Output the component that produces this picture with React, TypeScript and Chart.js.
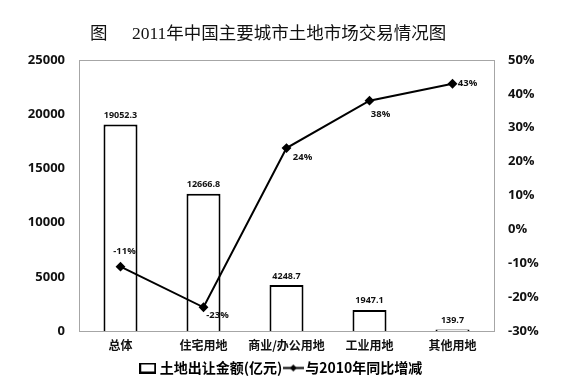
import React, { useEffect, useRef } from "react";
import { Chart, registerables } from "chart.js";

Chart.register(...registerables);

const categories = ["总体", "住宅用地", "商业/办公用地", "工业用地", "其他用地"];
const landValues = [19052.3, 12666.8, 4248.7, 1947.1, 139.7];
const yoyChange = [-11, -23, 24, 38, 43];
const leftTicks = { min: 0, max: 25000, step: 5000 };
const rightTicks = { min: -30, max: 50, step: 10 };
const barLegend = "土地出让金额(亿元)";
const lineLegend = "与2010年同比增减";
const titleLead = "图";
const titleMain = "2011年中国主要城市土地市场交易情况图";

const SANS = "'Open Sans', 'Noto Sans CJK SC', sans-serif";
const CJK = "'Noto Sans CJK SC', 'Open Sans', sans-serif";
const SERIF = "'Liberation Serif', 'Noto Sans CJK SC', serif";

// label placement for the line labels (style)
const lineLabelOffsets = [
  [4, -15],
  [14, 8],
  [16, 9],
  [11, 14],
  [15, 0],
];

function makeBarSwatch() {
  const c = document.createElement("canvas");
  c.width = 17;
  c.height = 11;
  const ctx = c.getContext("2d")!;
  ctx.fillStyle = "#fff";
  ctx.fillRect(0, 0, 17, 11);
  ctx.strokeStyle = "#000";
  ctx.lineWidth = 2;
  ctx.strokeRect(1, 1, 15, 9);
  return c;
}

function makeLineSwatch() {
  const c = document.createElement("canvas");
  c.width = 21;
  c.height = 9;
  const ctx = c.getContext("2d")!;
  ctx.strokeStyle = "#000";
  ctx.lineWidth = 2;
  ctx.beginPath();
  ctx.moveTo(0, 4.5);
  ctx.lineTo(21, 4.5);
  ctx.stroke();
  ctx.fillStyle = "#000";
  ctx.beginPath();
  ctx.moveTo(10.5, 1);
  ctx.lineTo(14, 4.5);
  ctx.lineTo(10.5, 8);
  ctx.lineTo(7, 4.5);
  ctx.closePath();
  ctx.fill();
  return c;
}

const framePlugin = {
  id: "frame",
  beforeDatasetsDraw(chart: any) {
    const { ctx, chartArea } = chart;
    ctx.save();
    ctx.strokeStyle = "#a6a6a6";
    ctx.lineWidth = 1;
    ctx.strokeRect(
      Math.round(chartArea.left) + 0.5,
      Math.round(chartArea.top) + 0.5,
      Math.round(chartArea.right - chartArea.left),
      Math.round(chartArea.bottom - chartArea.top)
    );
    ctx.restore();
  },
};

const titlePlugin = {
  id: "customTitle",
  afterDraw(chart: any) {
    const { ctx } = chart;
    ctx.save();
    ctx.fillStyle = "#111";
    ctx.font = `17.5px ${SERIF}`;
    ctx.textBaseline = "middle";
    ctx.textAlign = "left";
    ctx.fillText(titleLead, 90, 34);
    ctx.fillText(titleMain, 132, 34);
    ctx.restore();
  },
};

const labelPlugin = {
  id: "valueLabels",
  afterDatasetsDraw(chart: any) {
    const { ctx } = chart;
    ctx.save();
    ctx.fillStyle = "#111";
    ctx.textAlign = "center";
    ctx.textBaseline = "middle";
    chart.data.datasets.forEach((ds: any, di: number) => {
      const meta = chart.getDatasetMeta(di);
      meta.data.forEach((el: any, i: number) => {
        const v = ds.data[i];
        if (ds.type === "bar") {
          ctx.font = `bold 9px ${SANS}`;
          ctx.fillText(String(v), el.x, el.y - 9);
        } else {
          ctx.font = `bold 9.5px ${SANS}`;
          const [dx, dy] = lineLabelOffsets[i];
          ctx.fillText(`${v}%`, el.x + dx, el.y + dy);
        }
      });
    });
    ctx.restore();
  },
};

export default function App() {
  const ref = useRef<HTMLCanvasElement>(null);
  useEffect(() => {
    document.body.style.margin = "0";
    const barSwatch = makeBarSwatch();
    const lineSwatch = makeLineSwatch();
    const chart = new Chart(ref.current!, {
      data: {
        labels: categories,
        datasets: [
          {
            type: "bar",
            label: barLegend,
            data: landValues,
            backgroundColor: "#ffffff",
            borderColor: "#000000",
            borderWidth: 2,
            barPercentage: 0.41,
            categoryPercentage: 1,
            yAxisID: "y",
            order: 1,
          },
          {
            type: "line",
            label: lineLegend,
            data: yoyChange,
            borderColor: "#000000",
            backgroundColor: "#000000",
            borderWidth: 2,
            pointStyle: "rectRot",
            pointRadius: 3.5,
            pointBackgroundColor: "#000",
            pointBorderColor: "#000",
            yAxisID: "y1",
            order: 0,
          },
        ],
      } as any,
      options: {
        responsive: false,
        animation: false,
        layout: { padding: { top: 60, left: 0, right: 0, bottom: -8 } },
        plugins: {
          title: { display: false },
          tooltip: { enabled: false },
          legend: {
            position: "bottom",
            labels: {
              usePointStyle: true,
              pointStyleWidth: 10,
              padding: 6,
              color: "#111",
              font: { family: CJK, size: 14, weight: "bold" },
              generateLabels: () => [
                { text: barLegend, pointStyle: barSwatch, datasetIndex: 0, fillStyle: "#fff", strokeStyle: "#000", lineWidth: 0 } as any,
                { text: lineLegend, pointStyle: lineSwatch, datasetIndex: 1, fillStyle: "#000", strokeStyle: "#000", lineWidth: 0 } as any,
              ],
            },
          },
        },
        scales: {
          x: {
            grid: { display: false, drawTicks: false },
            border: { display: false },
            ticks: {
              color: "#111",
              padding: 7,
              font: { family: CJK, size: 12, weight: "bold" },
              maxRotation: 0,
            },
            afterFit: (s: any) => {
              s.height = 24;
            },
          },
          y: {
            position: "left",
            min: leftTicks.min,
            max: leftTicks.max,
            grid: { display: false, drawTicks: false },
            border: { display: false },
            ticks: {
              stepSize: leftTicks.step,
              color: "#111",
              padding: 14,
              font: { family: SANS, size: 13, weight: "bold" },
              callback: (v: any) => String(v),
            },
            afterFit: (s: any) => {
              s.width = 79;
            },
          },
          y1: {
            position: "right",
            min: rightTicks.min,
            max: rightTicks.max,
            grid: { display: false, drawTicks: false },
            border: { display: false },
            ticks: {
              stepSize: rightTicks.step,
              color: "#111",
              padding: 14,
              font: { family: SANS, size: 13, weight: "bold" },
              callback: (v: any) => `${v}%`,
            },
            afterFit: (s: any) => {
              s.width = 71;
            },
          },
        },
      } as any,
      plugins: [framePlugin, titlePlugin, labelPlugin],
    });
    return () => chart.destroy();
  }, []);
  return (
    <div style={{ width: 565, height: 377, background: "#fff" }}>
      <canvas ref={ref} width={565} height={377} />
    </div>
  );
}
